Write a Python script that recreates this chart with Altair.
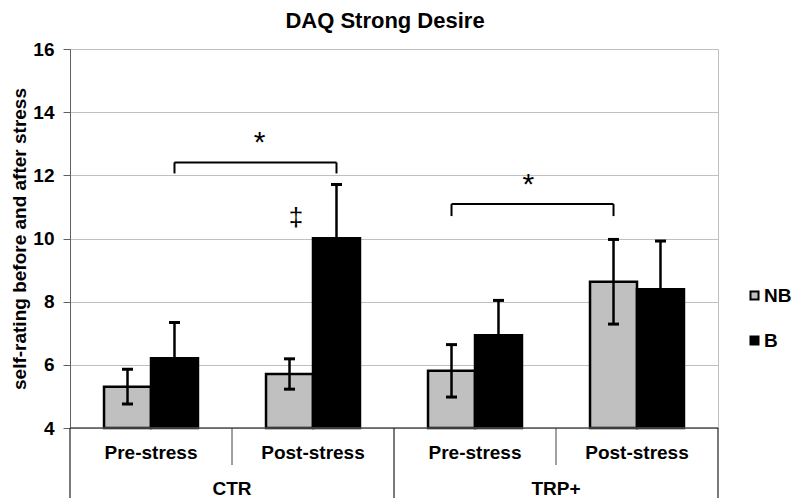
import altair as alt
import pandas as pd

# ---------------- data ----------------
groups = ["CTR", "CTR", "TRP+", "TRP+"]
phases = ["Pre-stress", "Post-stress", "Pre-stress", "Post-stress"]
series = ["NB", "B"]
nb_mean = [5.31, 5.71, 5.81, 8.63]
nb_err = [0.55, 0.48, 0.83, 1.34]
b_mean = [6.21, 10.01, 6.94, 8.39]
b_err = [1.13, 1.70, 1.10, 1.53]
y_ticks = [4, 6, 8, 10, 12, 14, 16]

# significance brackets
sig_from_slot = [0, 2]
sig_to_slot = [1, 3]
sig_series = ["B", "NB"]
sig_y = [12.41, 11.09]
sig_end_y = [12.06, 10.71]
sig_label = ["*", "*"]
sig_label_x = [1.17, 2.83]
sig_label_y = [13.27, 11.95]
dagger_label = ["\u2021"]
dagger_x = [1.395]
dagger_y = [10.65]

# ---------------- layout helpers (slot units) ----------------
BW = 0.29          # bar width in slot units
CAP = 0.034        # half cap width in slot units
FONT = "Liberation Sans"
Y0 = 4


def bar_center(slot, s):
    return slot + 0.5 + (-BW / 2 if s == "NB" else BW / 2)


rows = []
for i in range(4):
    for s, m, e in (("NB", nb_mean[i], nb_err[i]), ("B", b_mean[i], b_err[i])):
        c = bar_center(i, s)
        rows.append(dict(slot=i, group=groups[i], phase=phases[i], series=s,
                         mean=m, lo=m - e, hi=m + e, base=Y0,
                         x0=c - BW / 2, x1=c + BW / 2, xc=c,
                         c0=c - CAP, c1=c + CAP))
bars = pd.DataFrame(rows)

br_rows = []
for a, b, s, y, ye in zip(sig_from_slot, sig_to_slot, sig_series, sig_y, sig_end_y):
    xa, xb = bar_center(a, s), bar_center(b, s)
    br_rows.append(dict(x=xa, x2=xb, y=y, y2=y))
    br_rows.append(dict(x=xa, x2=xa, y=ye, y2=y))
    br_rows.append(dict(x=xb, x2=xb, y=ye, y2=y))
brackets = pd.DataFrame(br_rows)

stars = pd.DataFrame(dict(x=sig_label_x, y=sig_label_y, t=sig_label))
dagger = pd.DataFrame(dict(x=dagger_x, y=dagger_y, t=dagger_label))

phase_lab = pd.DataFrame(dict(x=[i + 0.5 for i in range(4)], t=phases))
group_lab = pd.DataFrame(dict(x=[1.0, 3.0], t=["CTR", "TRP+"]))
phase_div = pd.DataFrame(dict(x=[1.0, 3.0]))
group_div = pd.DataFrame(dict(x=[0.0, 2.0, 4.0]))
baseline = pd.DataFrame(dict(x=[0.0], x2=[4.0], y=[Y0]))

W, H = 648, 379

xs = alt.Scale(domain=[0, 4], nice=False, zero=False)
ys = alt.Scale(domain=[4, 16], nice=False, zero=False)
X = lambda f: alt.X(f, type="quantitative", scale=xs, axis=None)
Yax = alt.Axis(values=y_ticks, grid=True, gridColor="#c0c0c0", gridWidth=1,
               domainColor="#606060", tickColor="#606060", tickSize=7,
               labelFont=FONT, labelFontSize=19, labelFontWeight="bold",
               labelColor="black", labelPadding=9,
               title="self-rating before and after stress",
               titleFont=FONT, titleFontSize=19, titleFontWeight="bold",
               titleColor="black", titleX=-51, titleY=H / 2,
               titleAngle=270, titleAlign="center", titleBaseline="middle")

base = alt.Chart(bars)

bar_layer = base.mark_bar(stroke="black", strokeWidth=2.5).encode(
    x=X("x0"), x2="x1",
    y=alt.Y("mean", type="quantitative", scale=ys, axis=Yax),
    y2="base",
    fill=alt.Fill("series", type="nominal",
                  scale=alt.Scale(domain=series, range=["#c0c0c0", "#000000"]),
                  legend=alt.Legend(title=None, orient="none", legendX=675, legendY=237,
                                    padding=0,
                                    symbolType="square", symbolSize=64,
                                    symbolStrokeColor="black", symbolStrokeWidth=2,
                                    labelFont=FONT, labelFontSize=19,
                                    labelFontWeight="bold", labelColor="black",
                                    labelOffset=0, rowPadding=25)),
)

err_layer = base.mark_rule(color="black", strokeWidth=2.5).encode(
    x=X("xc"), y=alt.Y("lo", type="quantitative", scale=ys), y2="hi")
cap_hi = base.mark_rule(color="black", strokeWidth=3).encode(
    x=X("c0"), x2="c1", y=alt.Y("hi", type="quantitative", scale=ys))
cap_lo = base.mark_rule(color="black", strokeWidth=3).encode(
    x=X("c0"), x2="c1", y=alt.Y("lo", type="quantitative", scale=ys))

br_layer = alt.Chart(brackets).mark_rule(color="black", strokeWidth=2).encode(
    x=X("x"), x2="x2", y=alt.Y("y", type="quantitative", scale=ys), y2="y2")

star_layer = alt.Chart(stars).mark_text(font=FONT, fontSize=30, color="black",
                                        baseline="middle", dy=8).encode(
    x=X("x"), y=alt.Y("y", type="quantitative", scale=ys), text="t")
dagger_layer = alt.Chart(dagger).mark_text(font=FONT, fontSize=26, color="black",
                                           baseline="middle").encode(
    x=X("x"), y=alt.Y("y", type="quantitative", scale=ys), text="t")

base_line = alt.Chart(baseline).mark_rule(color="#505050", strokeWidth=1.5).encode(
    x=X("x"), x2="x2", y=alt.Y("y", type="quantitative", scale=ys))

phase_div_layer = alt.Chart(phase_div).mark_rule(color="#404040", strokeWidth=1).encode(
    x=X("x"), y=alt.value(H), y2=alt.value(H + 37))
group_div_layer = alt.Chart(group_div).mark_rule(color="#202020", strokeWidth=1.2, clip=False).encode(
    x=X("x"), y=alt.value(H), y2=alt.value(H + 70))

phase_text = alt.Chart(phase_lab).mark_text(font=FONT, fontSize=19, fontWeight="bold",
                                            color="black", baseline="middle").encode(
    x=X("x"), y=alt.value(H + 25), text="t")
group_text = alt.Chart(group_lab).mark_text(font=FONT, fontSize=19, fontWeight="bold",
                                            color="black", baseline="middle").encode(
    x=X("x"), y=alt.value(H + 61), text="t")

chart = alt.layer(
    bar_layer, err_layer, cap_hi, cap_lo, br_layer, star_layer, dagger_layer,
    base_line, phase_div_layer, group_div_layer, phase_text, group_text,
).properties(
    width=W, height=H,
    title=alt.TitleParams("DAQ Strong Desire", font=FONT, fontSize=22,
                          fontWeight="bold", color="black", anchor="middle",
                          dx=-9, offset=7),
    autosize=alt.AutoSizeParams(type="none"),
    padding={"left": 62, "top": 41, "right": 74, "bottom": 70},
).configure_view(stroke="#c0c0c0", strokeWidth=1)

chart.save("out.html", embed_options={"renderer": "svg", "actions": False})
